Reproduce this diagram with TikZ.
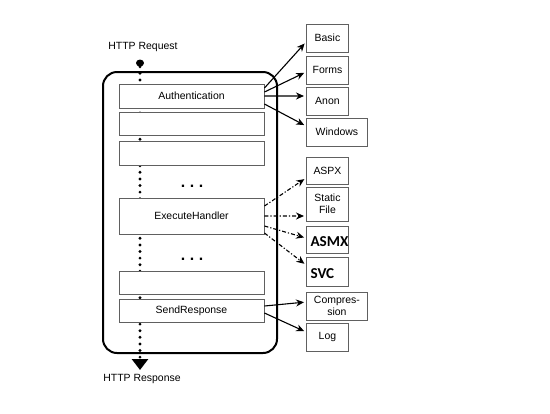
\documentclass[tikz,border=0pt]{standalone}
\usepackage{fontspec}
\setmainfont{Liberation Sans}
\newfontfamily\negrita{Carlito}
\usetikzlibrary{arrows.meta,shapes.geometric}
\tikzstyle{etapa} = [draw=gray!75!black, fill=white, line width=0.9bp, rectangle, minimum width=145bp, inner sep=0pt]
\tikzstyle{destino} = [draw=gray!75!black, fill=white, line width=0.9bp, rectangle, anchor=west, minimum width=42bp, minimum height=28bp, inner sep=1bp, align=center]
\tikzstyle{grande} = [anchor=west, font=\negrita\bfseries\fontsize{15.2}{16}\selectfont]
\tikzstyle{suspensivos} = [font=\bfseries\fontsize{16}{16}\selectfont, inner sep=0pt]
\tikzstyle{flecha} = [-{Stealth[length=8bp,width=7bp]}, line width=1.1bp, shorten >=2bp]
\tikzstyle{flechapunto} = [flecha, dash pattern=on 4bp off 2bp on 1.2bp off 2bp]

\begin{document}
\begin{tikzpicture}[x=1bp, y=-1bp, every node/.style={font=\fontsize{10.5}{12}\selectfont}]
	\useasboundingbox (0,0) rectangle (550,413);
	% marco del pipeline
	\node[draw, line width=2bp, rounded corners=14bp, minimum width=174bp, minimum height=281bp] (marco) at (190,212.5) {};
	\node (peticion) at (143,47) {HTTP Request};
	\node[ellipse, fill=black, minimum width=8bp, minimum height=7bp, inner sep=0pt] (inicio) at (140,63) {};
	\coordinate (fin) at (140,370);
	\draw[line width=3.2bp, line cap=round, dash pattern=on 0bp off 6.6bp, -{Triangle[length=11bp,width=16bp]}] (inicio) -- (fin);
	\node (respuesta) at (142,379) {HTTP Response};
	% etapas
	\node[etapa, minimum height=24bp] (auth) at (191.5,96) {Authentication};
	\node[etapa, minimum height=23bp] (vacio1) at (191.5,123.5) {};
	\node[etapa, minimum height=24bp] (vacio2) at (191.5,153) {};
	\node[suspensivos, anchor=base] (puntos1) at (192,187.5) {.\hspace{4.6bp}.\hspace{4.6bp}.};
	\node[etapa, minimum height=36bp] (exec) at (191.5,216) {ExecuteHandler};
	\node[suspensivos, anchor=base] (puntos2) at (192,260.5) {.\hspace{4.6bp}.\hspace{4.6bp}.};
	\node[etapa, minimum height=23bp] (vacio3) at (191.5,282.5) {};
	\node[etapa, minimum height=23bp] (send) at (191.5,310.5) {SendResponse};
	% modulos
	\node[destino] (basic) at (306,38) {Basic};
	\node[destino] (forms) at (306,70) {Forms};
	\node[destino] (anon) at (306,101) {Anon};
	\node[destino, minimum width=61bp] (windows) at (306,132) {Windows};
	\node[destino, minimum height=27bp] (aspx) at (306,170.5) {ASPX};
	\node[destino, minimum height=34bp] (static) at (306,204) {Static\\File};
	\node[destino, minimum height=27bp] (asmx) at (306,239.5) {};
	\node[grande] (asmxtexto) at ([xshift=1bp,yshift=-2.5bp]asmx.west) {ASMX};
	\node[destino, minimum height=29bp] (svc) at (306,271.5) {};
	\node[grande] (svctexto) at ([xshift=1bp,yshift=-2.5bp]svc.west) {SVC};
	\node[destino, minimum width=61bp] (compresion) at (306,306) {Compres-\\sion};
	\node[destino] (log) at (306,337) {Log};
	% flechas
	\draw[flecha] ([yshift=8bp]auth.east) -- ([yshift=-4bp]basic.west);
	\draw[flecha] ([yshift=4bp]auth.east) -- ([yshift=-2bp]forms.west);
	\draw[flecha] (auth.east) -- ([yshift=5bp]anon.west);
	\draw[flecha] ([yshift=-8bp]auth.east) -- ([yshift=6bp]windows.west);
	\draw[flechapunto] ([yshift=10bp]exec.east) -- ([yshift=-7.5bp]aspx.west);
	\draw[flechapunto] (exec.east) -- ([yshift=-12bp]static.west);
	\draw[flechapunto] ([yshift=-10bp]exec.east) -- ([yshift=1.5bp]asmx.west);
	\draw[flechapunto] ([yshift=-17bp]exec.east) -- ([yshift=6.5bp]svc.west);
	\draw[flecha] ([yshift=4.5bp]send.east) -- ([yshift=4bp]compresion.west);
	\draw[flecha] ([yshift=-2.5bp]send.east) -- ([yshift=5bp]log.west);
\end{tikzpicture}
\end{document}
